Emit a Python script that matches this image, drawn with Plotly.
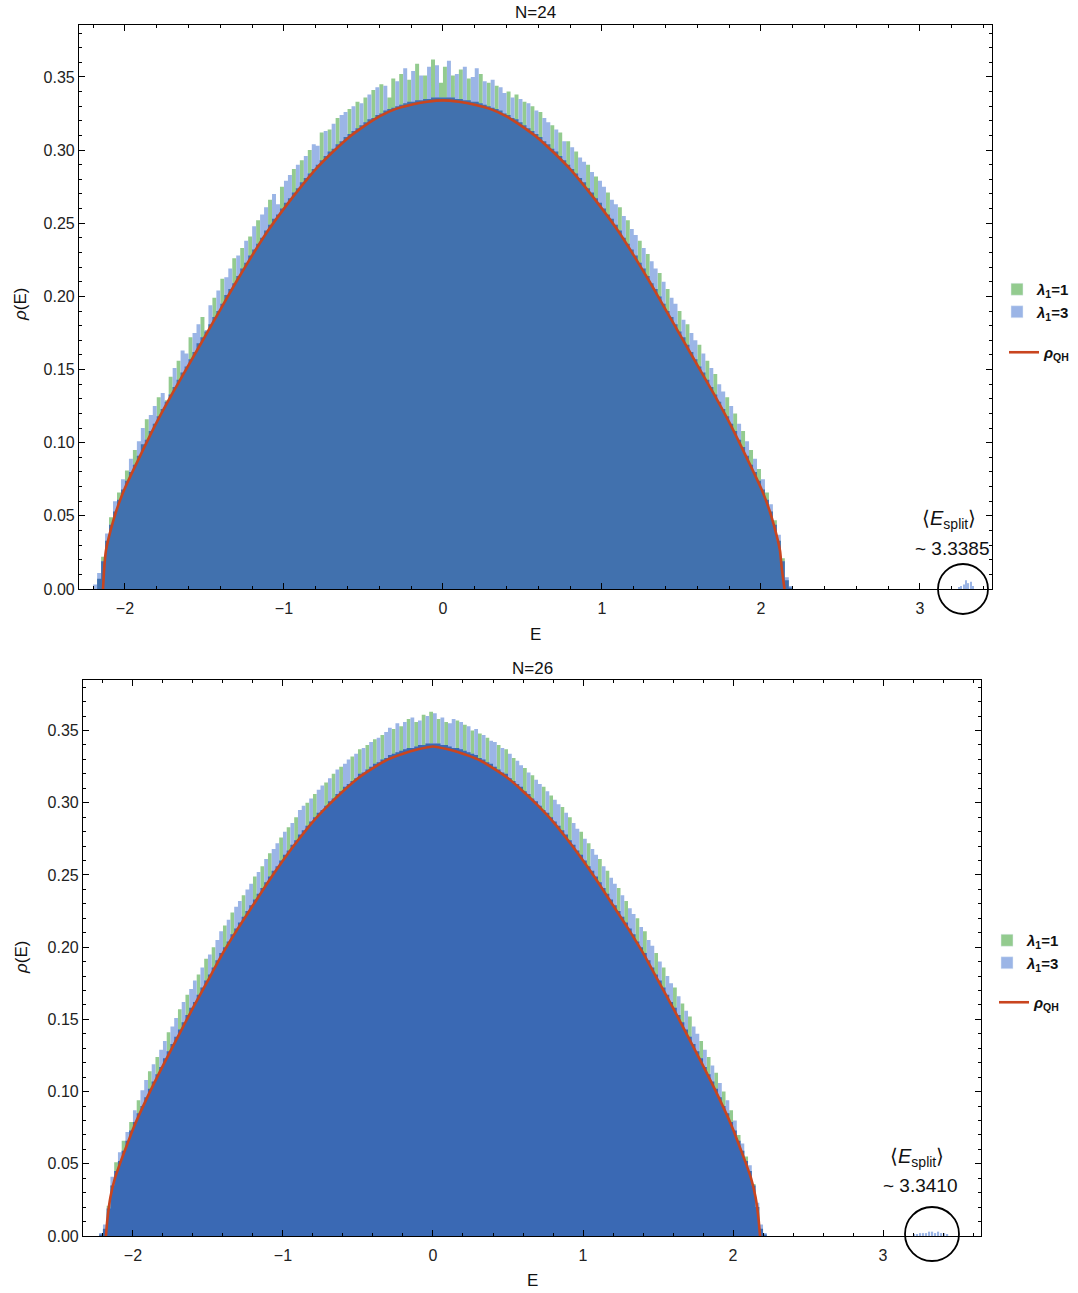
import numpy as np
import plotly.graph_objects as go

W, H = 1078, 1293          # size of the reference picture
FIG_H = 1302               # figure height; the photographed page is compressed to H
BIN_W = 0.025
bin_centers = np.round(np.arange(-2.2125, 2.2126, BIN_W), 4)  # 178 bins

# ---------------- N = 24 ----------------
n24_lam1 = [
    0.000, 0.000, 0.007, 0.022, 0.033, 0.049, 0.053, 0.066, 0.068, 0.081,
    0.080, 0.095, 0.091, 0.099, 0.116, 0.108, 0.113, 0.131, 0.123, 0.129,
    0.145, 0.138, 0.156, 0.148, 0.152, 0.172, 0.162, 0.168, 0.186, 0.176,
    0.181, 0.199, 0.190, 0.212, 0.201, 0.205, 0.226, 0.214, 0.233, 0.223,
    0.241, 0.232, 0.252, 0.240, 0.245, 0.266, 0.253, 0.256, 0.275, 0.264,
    0.267, 0.287, 0.274, 0.293, 0.281, 0.300, 0.287, 0.290, 0.312, 0.296,
    0.314, 0.301, 0.322, 0.306, 0.309, 0.328, 0.313, 0.333, 0.317, 0.336,
    0.321, 0.341, 0.324, 0.345, 0.327, 0.336, 0.349, 0.330, 0.352, 0.332,
    0.348, 0.333, 0.359, 0.334, 0.351, 0.335, 0.362, 0.336, 0.346, 0.357,
    0.336, 0.351, 0.335, 0.355, 0.334, 0.349, 0.333, 0.333, 0.352, 0.331,
    0.346, 0.329, 0.344, 0.327, 0.325, 0.340, 0.322, 0.338, 0.319, 0.333,
    0.315, 0.330, 0.311, 0.326, 0.306, 0.304, 0.317, 0.299, 0.312, 0.293,
    0.306, 0.287, 0.299, 0.281, 0.278, 0.290, 0.271, 0.282, 0.264, 0.260,
    0.271, 0.253, 0.249, 0.261, 0.240, 0.252, 0.232, 0.228, 0.238, 0.219,
    0.229, 0.209, 0.205, 0.216, 0.195, 0.205, 0.186, 0.181, 0.190, 0.172,
    0.181, 0.162, 0.157, 0.167, 0.148, 0.156, 0.138, 0.147, 0.128, 0.123,
    0.131, 0.113, 0.120, 0.102, 0.108, 0.091, 0.095, 0.080, 0.082, 0.068,
    0.066, 0.053, 0.047, 0.033, 0.021, 0.006, 0.001, 0.000,
]
n24_lam3 = [
    0.000, 0.003, 0.011, 0.019, 0.038, 0.044, 0.060, 0.061, 0.075, 0.074,
    0.089, 0.085, 0.101, 0.110, 0.102, 0.119, 0.125, 0.118, 0.134, 0.128,
    0.133, 0.151, 0.143, 0.163, 0.161, 0.157, 0.175, 0.181, 0.172, 0.177,
    0.194, 0.186, 0.204, 0.195, 0.213, 0.219, 0.209, 0.228, 0.219, 0.238,
    0.228, 0.248, 0.236, 0.256, 0.261, 0.249, 0.270, 0.263, 0.260, 0.279,
    0.283, 0.271, 0.290, 0.278, 0.296, 0.284, 0.304, 0.303, 0.293, 0.313,
    0.299, 0.318, 0.304, 0.324, 0.326, 0.311, 0.330, 0.315, 0.332, 0.319,
    0.338, 0.322, 0.343, 0.325, 0.344, 0.328, 0.329, 0.347, 0.331, 0.356,
    0.333, 0.354, 0.334, 0.351, 0.335, 0.357, 0.336, 0.358, 0.336, 0.336,
    0.361, 0.336, 0.352, 0.335, 0.357, 0.334, 0.350, 0.356, 0.332, 0.347,
    0.330, 0.348, 0.328, 0.343, 0.339, 0.324, 0.336, 0.321, 0.335, 0.317,
    0.332, 0.313, 0.327, 0.309, 0.322, 0.319, 0.301, 0.314, 0.296, 0.306,
    0.290, 0.302, 0.284, 0.295, 0.292, 0.274, 0.285, 0.267, 0.279, 0.275,
    0.256, 0.266, 0.263, 0.245, 0.255, 0.236, 0.246, 0.242, 0.223, 0.233,
    0.214, 0.224, 0.219, 0.200, 0.210, 0.190, 0.199, 0.195, 0.176, 0.184,
    0.167, 0.175, 0.170, 0.152, 0.161, 0.143, 0.151, 0.133, 0.140, 0.135,
    0.118, 0.125, 0.108, 0.113, 0.097, 0.101, 0.085, 0.089, 0.074, 0.075,
    0.061, 0.058, 0.044, 0.037, 0.019, 0.008, 0.002, 0.000,
]
n24_split_E = [3.245, 3.260, 3.275, 3.290, 3.305, 3.320, 3.335]
n24_split_lam3 = [0.001, 0.002, 0.003, 0.006, 0.004, 0.005, 0.002]
n24_qh_E = [-2.138, -2.13, -2.12, -2.10, -2.07, -2.04, -2.0, -1.9, -1.8, -1.7,
            -1.6, -1.5, -1.4, -1.3, -1.2, -1.1, -1.0, -0.9, -0.8, -0.7, -0.6,
            -0.5, -0.4, -0.3, -0.2, -0.1, 0.0, 0.1, 0.2, 0.3, 0.4, 0.5, 0.6,
            0.7, 0.8, 0.9, 1.0, 1.1, 1.2, 1.3, 1.4, 1.5, 1.6, 1.7, 1.8, 1.9,
            2.0, 2.04, 2.07, 2.10, 2.12, 2.13, 2.148]
n24_qh_rho = [0.0, 0.015, 0.026, 0.036, 0.048, 0.058, 0.069, 0.092, 0.114, 0.134,
              0.153, 0.172, 0.191, 0.210, 0.228, 0.245, 0.260, 0.274, 0.287, 0.298, 0.308,
              0.316, 0.323, 0.328, 0.331, 0.333, 0.334, 0.333, 0.331, 0.328, 0.323, 0.316, 0.308,
              0.298, 0.287, 0.274, 0.260, 0.245, 0.228, 0.210, 0.191, 0.172, 0.153, 0.134, 0.114, 0.092,
              0.069, 0.058, 0.048, 0.036, 0.026, 0.015, 0.0]

# ---------------- N = 26 ----------------
n26_lam1 = [
    0.001, 0.005, 0.021, 0.035, 0.051, 0.052, 0.066, 0.066, 0.079, 0.079,
    0.094, 0.090, 0.096, 0.114, 0.107, 0.124, 0.117, 0.123, 0.141, 0.133,
    0.138, 0.157, 0.148, 0.167, 0.158, 0.162, 0.181, 0.172, 0.192, 0.181,
    0.200, 0.191, 0.196, 0.215, 0.204, 0.224, 0.213, 0.217, 0.236, 0.225,
    0.229, 0.249, 0.237, 0.256, 0.245, 0.265, 0.253, 0.256, 0.276, 0.264,
    0.283, 0.271, 0.290, 0.278, 0.281, 0.300, 0.287, 0.306, 0.293, 0.295,
    0.314, 0.301, 0.320, 0.306, 0.325, 0.311, 0.313, 0.332, 0.317, 0.337,
    0.321, 0.340, 0.325, 0.344, 0.328, 0.347, 0.331, 0.333, 0.351, 0.335,
    0.353, 0.337, 0.358, 0.338, 0.356, 0.340, 0.361, 0.341, 0.363, 0.341,
    0.358, 0.340, 0.356, 0.339, 0.338, 0.357, 0.337, 0.354, 0.335, 0.350,
    0.333, 0.348, 0.330, 0.345, 0.327, 0.325, 0.340, 0.321, 0.337, 0.317,
    0.331, 0.313, 0.311, 0.324, 0.306, 0.319, 0.301, 0.298, 0.311, 0.293,
    0.305, 0.287, 0.284, 0.297, 0.278, 0.290, 0.271, 0.267, 0.280, 0.260,
    0.272, 0.253, 0.249, 0.261, 0.241, 0.253, 0.233, 0.229, 0.241, 0.221,
    0.232, 0.213, 0.209, 0.220, 0.200, 0.211, 0.191, 0.186, 0.196, 0.177,
    0.186, 0.167, 0.162, 0.172, 0.153, 0.161, 0.143, 0.152, 0.133, 0.128,
    0.135, 0.117, 0.124, 0.107, 0.113, 0.096, 0.100, 0.085, 0.087, 0.073,
    0.070, 0.059, 0.055, 0.045, 0.036, 0.020, 0.005, 0.001,
]
n26_lam3 = [
    0.002, 0.008, 0.019, 0.041, 0.045, 0.058, 0.059, 0.072, 0.073, 0.087,
    0.085, 0.101, 0.108, 0.102, 0.119, 0.112, 0.129, 0.135, 0.128, 0.145,
    0.151, 0.143, 0.162, 0.153, 0.171, 0.177, 0.167, 0.186, 0.177, 0.195,
    0.186, 0.205, 0.211, 0.200, 0.219, 0.209, 0.228, 0.232, 0.221, 0.240,
    0.244, 0.233, 0.252, 0.241, 0.261, 0.249, 0.268, 0.272, 0.260, 0.280,
    0.267, 0.286, 0.274, 0.295, 0.298, 0.284, 0.303, 0.290, 0.309, 0.312,
    0.298, 0.317, 0.303, 0.323, 0.308, 0.327, 0.330, 0.315, 0.334, 0.320,
    0.338, 0.323, 0.342, 0.327, 0.345, 0.330, 0.349, 0.352, 0.334, 0.355,
    0.336, 0.356, 0.338, 0.359, 0.339, 0.357, 0.340, 0.360, 0.341, 0.362,
    0.341, 0.359, 0.340, 0.355, 0.358, 0.338, 0.356, 0.336, 0.353, 0.334,
    0.351, 0.331, 0.347, 0.328, 0.343, 0.342, 0.323, 0.338, 0.320, 0.334,
    0.315, 0.329, 0.326, 0.308, 0.321, 0.303, 0.316, 0.313, 0.295, 0.308,
    0.290, 0.302, 0.299, 0.281, 0.293, 0.274, 0.286, 0.282, 0.264, 0.275,
    0.256, 0.268, 0.264, 0.245, 0.256, 0.237, 0.248, 0.244, 0.225, 0.236,
    0.217, 0.227, 0.223, 0.204, 0.214, 0.196, 0.205, 0.201, 0.181, 0.190,
    0.172, 0.180, 0.175, 0.158, 0.166, 0.148, 0.156, 0.138, 0.145, 0.140,
    0.123, 0.129, 0.112, 0.118, 0.102, 0.106, 0.090, 0.094, 0.079, 0.080,
    0.066, 0.064, 0.052, 0.049, 0.035, 0.023, 0.008, 0.002,
]
n26_split_E = [3.21, 3.23, 3.25, 3.27, 3.29, 3.31, 3.33, 3.35, 3.37, 3.39, 3.41, 3.43]
n26_split_lam3 = [0.001, 0.001, 0.002, 0.002, 0.002, 0.003, 0.003, 0.002, 0.003, 0.002, 0.002, 0.001]
n26_qh_E = [-2.18, -2.17, -2.15, -2.12, -2.08, -2.04, -2.0, -1.9, -1.8, -1.7,
            -1.6, -1.5, -1.4, -1.3, -1.2, -1.1, -1.0, -0.9, -0.8, -0.7, -0.6,
            -0.5, -0.4, -0.3, -0.2, -0.1, 0.0, 0.1, 0.2, 0.3, 0.4, 0.5, 0.6,
            0.7, 0.8, 0.9, 1.0, 1.1, 1.2, 1.3, 1.4, 1.5, 1.6, 1.7, 1.8, 1.9,
            2.0, 2.04, 2.08, 2.12, 2.15, 2.17, 2.18]
n26_qh_rho = [0.0, 0.012, 0.027, 0.040, 0.052, 0.063, 0.074, 0.097, 0.118, 0.138,
              0.158, 0.177, 0.196, 0.213, 0.229, 0.245, 0.260, 0.274, 0.287, 0.298, 0.308,
              0.317, 0.324, 0.330, 0.334, 0.337, 0.339, 0.337, 0.334, 0.330, 0.324, 0.317, 0.308,
              0.298, 0.287, 0.274, 0.260, 0.245, 0.229, 0.213, 0.196, 0.177, 0.158, 0.138, 0.118, 0.097,
              0.074, 0.063, 0.052, 0.040, 0.027, 0.012, 0.0]

panels = [
    dict(title="N=24", lam1=n24_lam1, lam3=n24_lam3, sE=n24_split_E, s3=n24_split_lam3,
         qE=n24_qh_E, qr=n24_qh_rho, esplit="~ 3.3385"),
    dict(title="N=26", lam1=n26_lam1, lam3=n26_lam3, sE=n26_split_E, s3=n26_split_lam3,
         qE=n26_qh_E, qr=n26_qh_rho, esplit="~ 3.3410"),
]

# ---------------- styling / layout (pixel geometry of the reference) ----------------
GREEN = "#93CB8F"
BLUE_L = "#9BB5E6"
BODY = ["#4171AE", "#3A69B4"]
RED = "#C9451F"
FONT = "Liberation Sans, Arial, sans-serif"

geo = [
    dict(l=79, r=992, t=25, b=589, xr=[-2.289, 3.453], yr=[0, 0.3855],
         circ=(963, 589, 25), lg=(997, 273), lg2=(1004, 336),
         es=(949, 519), ev=(952, 548), ttl=(535, 12), xl=(535, 634), yl=(20, 305)),
    dict(l=83, r=981, t=680, b=1236, xr=[-2.333, 3.653], yr=[0, 0.385],
         circ=(932, 1234, 27), lg=(987, 924), lg2=(994, 986),
         es=(917, 1157), ev=(920, 1185), ttl=(532, 668), xl=(532, 1280), yl=(21, 958)),
]


def px(x):
    return x / W


def py(y):
    return 1 - y / H


def step(xc, vals):
    xc = np.asarray(xc, float)
    edges = list(xc - BIN_W / 2) + [xc[-1] + BIN_W / 2]
    v = list(vals) + [vals[-1]]
    return edges, v


fig = go.Figure()
legend_names = [("legend", "legend2"), ("legend3", "legend4")]

for i, (p, g) in enumerate(zip(panels, geo)):
    xa = "x" if i == 0 else "x2"
    ya = "y" if i == 0 else "y2"
    lgA, lgB = legend_names[i]
    ex, gy = step(bin_centers, p["lam1"])
    _, by = step(bin_centers, p["lam3"])
    body = np.minimum(np.array(p["lam1"]), np.array(p["lam3"]))
    _, bdy = step(bin_centers, list(body))
    common = dict(mode="lines", line=dict(width=0, shape="hv"), fill="tozeroy",
                  xaxis=xa, yaxis=ya, showlegend=False, hoverinfo="skip")
    fig.add_trace(go.Scatter(x=ex, y=gy, fillcolor=GREEN, **common))
    fig.add_trace(go.Scatter(x=ex, y=by, fillcolor=BLUE_L, **common))
    fig.add_trace(go.Scatter(x=ex, y=bdy, fillcolor=BODY[i], **common))
    fig.add_trace(go.Bar(x=p["sE"], y=p["s3"], width=0.008,
                         marker=dict(color=BLUE_L, line=dict(width=0)),
                         xaxis=xa, yaxis=ya, showlegend=False))
    fig.add_trace(go.Scatter(x=p["qE"], y=p["qr"], mode="lines",
                             line=dict(color=RED, width=2.6, shape="spline", smoothing=0.6),
                             xaxis=xa, yaxis=ya, name="<b><i>ρ</i><sub>QH</sub></b>",
                             legend=lgB, showlegend=True))
    # legend swatches for the two histograms
    fig.add_trace(go.Bar(x=[None], y=[None], marker=dict(color=GREEN),
                         name="<b><i>λ</i><sub>1</sub>=1</b>",
                         xaxis=xa, yaxis=ya, legend=lgA, legendgroup=f"a{i}"))
    fig.add_trace(go.Bar(x=[None], y=[None], marker=dict(color=BLUE_L),
                         name="<b><i>λ</i><sub>1</sub>=3</b>",
                         xaxis=xa, yaxis=ya, legend=lgA, legendgroup=f"b{i}"))

axis_common = dict(showline=True, linecolor="black", linewidth=1.2, mirror="ticks",
                   ticks="inside", ticklen=6, tickwidth=1, tickcolor="black",
                   showgrid=False, zeroline=False,
                   tickfont=dict(family=FONT, size=16, color="#222"))

layout = dict(width=W, height=FIG_H, autosize=False, margin=dict(l=0, r=0, t=0, b=0),
              paper_bgcolor="white", plot_bgcolor="white", barmode="overlay",
              font=dict(family=FONT, size=15, color="#222"))

for i, g in enumerate(geo):
    sfx = "" if i == 0 else "2"
    layout["xaxis" + sfx] = dict(domain=[px(g["l"]), px(g["r"])], range=g["xr"],
                                 tickvals=[-2, -1, 0, 1, 2, 3], anchor="y" + sfx,
                                 ticklabelstandoff=5,
                                 minor=dict(ticks="inside", ticklen=3, tickcolor="black",
                                            dtick=0.2, tick0=0),
                                 **axis_common)
    layout["yaxis" + sfx] = dict(domain=[py(g["b"]), py(g["t"])], range=g["yr"],
                                 tickvals=[0, 0.05, 0.1, 0.15, 0.2, 0.25, 0.3, 0.35],
                                 tickformat=".2f", anchor="x" + sfx,
                                 minor=dict(ticks="inside", ticklen=3, tickcolor="black",
                                            dtick=0.01, tick0=0),
                                 **axis_common)

leg_style = dict(bgcolor="rgba(0,0,0,0)", font=dict(family=FONT, size=15, color="#111"),
                 xanchor="left", yanchor="top", tracegroupgap=0, itemclick=False)
for i, g in enumerate(geo):
    lgA, lgB = legend_names[i]
    layout[lgA] = dict(x=px(g["lg"][0]), y=py(g["lg"][1]), **leg_style)
    layout[lgB] = dict(x=px(g["lg2"][0]), y=py(g["lg2"][1]), **leg_style)

annotations = []
shapes = []


def note(text, xy, size, **kw):
    return dict(text=text, x=px(xy[0]), y=py(xy[1]), xref="paper", yref="paper",
                xanchor="center", yanchor="middle", showarrow=False,
                font=dict(family=FONT, size=size, color="#111"), **kw)


for i, (p, g) in enumerate(zip(panels, geo)):
    annotations.append(note(p["title"], g["ttl"], 17))
    annotations.append(note("E", g["xl"], 17))
    annotations.append(note("<i>ρ</i>(E)", g["yl"], 17, textangle=-90))
    annotations.append(note("⟨<i>E</i><sub>split</sub>⟩", g["es"], 20))
    annotations.append(note(p["esplit"], g["ev"], 19))
    cx, cy, r = g["circ"]
    shapes.append(dict(type="circle", xref="paper", yref="paper",
                       x0=px(cx - r), x1=px(cx + r), y0=py(cy + r), y1=py(cy - r),
                       line=dict(color="black", width=1.8)))

layout["annotations"] = annotations
layout["shapes"] = shapes
fig.update_layout(**layout)
fig.write_html(
    "out.html",
    config={"displayModeBar": False},
    post_script=("document.body.style.margin='0px';"
                 "document.body.style.overflow='hidden';"
                 "document.documentElement.style.overflow='hidden';"),
)
